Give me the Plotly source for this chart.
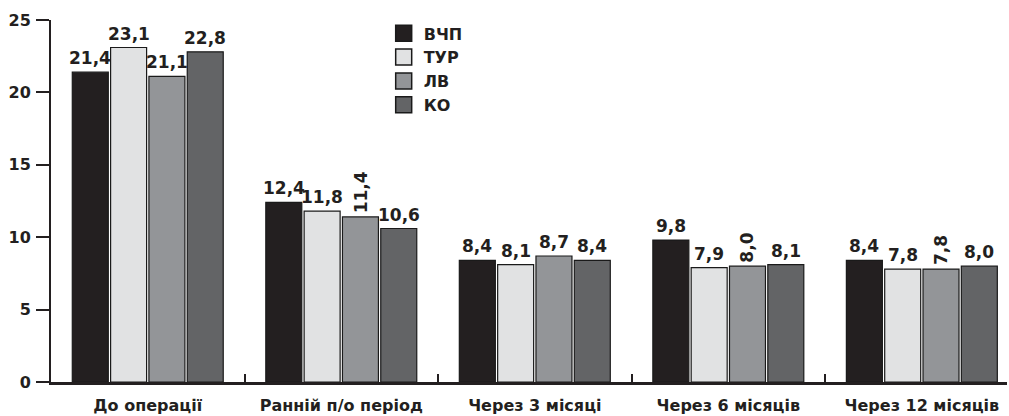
import plotly.graph_objects as go

categories = ["До операції", "Ранній п/о період", "Через 3 місяці", "Через 6 місяців", "Через 12 місяців"]
series_names = ["ВЧП", "ТУР", "ЛВ", "КО"]
vchp = [21.4, 12.4, 8.4, 9.8, 8.4]
tur = [23.1, 11.8, 8.1, 7.9, 7.8]
lv = [21.1, 11.4, 8.7, 8.0, 7.8]
ko = [22.8, 10.6, 8.4, 8.1, 8.0]
y_ticks = [0, 5, 10, 15, 20, 25]

series_values = [vchp, tur, lv, ko]
colors = ["#231f20", "#e1e2e3", "#939598", "#636466"]
outline = "#1a1a1a"
slot = 0.198
bar_w = 0.186
# (series index, category index) of value labels drawn vertically
rotated = {(2, 1), (2, 3), (2, 4)}
FONT = "DejaVu Sans, sans-serif"
INK = "#231f20"

fig = go.Figure()
for j, (name, vals) in enumerate(zip(series_names, series_values)):
    xs = [i + (j - 1.5) * slot for i in range(len(categories))]
    fig.add_trace(go.Bar(
        x=xs, y=vals, width=bar_w, name=name, showlegend=False,
        marker=dict(color=colors[j], line=dict(color=outline, width=1.2)),
        hoverinfo="skip",
    ))
    fig.add_trace(go.Scatter(
        x=[None], y=[None], mode="markers", name=name,
        marker=dict(symbol="square", size=16, color=colors[j],
                    line=dict(color=outline, width=1.5)),
    ))
    for i, v in enumerate(vals):
        label = f"{v:.1f}".replace(".", ",")
        rot = (j, i) in rotated
        fig.add_annotation(
            x=xs[i], y=v, text=f"<b>{label}</b>", showarrow=False,
            textangle=-90 if rot else 0,
            xanchor="center", yanchor="bottom", yshift=2,
            font=dict(family=FONT, size=17, color=INK),
        )

fig.update_layout(
    width=1009, height=416,
    margin=dict(l=51, r=2, t=20, b=34),
    paper_bgcolor="white", plot_bgcolor="white",
    barmode="overlay",
    font=dict(family=FONT, color=INK),
    legend=dict(
        x=0.348, y=1.01, xanchor="left", yanchor="top",
        font=dict(family=FONT, size=16, color=INK, weight="bold"),
        bgcolor="rgba(0,0,0,0)", tracegroupgap=0,
    ),
    xaxis=dict(
        range=[-0.5, 4.44], automargin=False,
        tickvals=list(range(len(categories))),
        ticktext=[f"<b>{c}</b>" for c in categories],
        ticks="", showgrid=False, zeroline=False,
        showline=True, linecolor=INK, linewidth=2.5,
        tickfont=dict(family=FONT, size=16, color=INK),
        ticklabelstandoff=7,
        minor=dict(tickvals=[0.5, 1.5, 2.5, 3.5], ticks="inside",
                   ticklen=8, tickwidth=2, tickcolor=INK),
    ),
    yaxis=dict(
        range=[0, 25], tickvals=y_ticks, automargin=False,
        ticktext=[f"<b>{t}</b>" for t in y_ticks],
        ticks="outside", ticklen=13, tickwidth=2, tickcolor=INK,
        showgrid=False, zeroline=False,
        showline=True, linecolor=INK, linewidth=2,
        tickfont=dict(family=FONT, size=16, color=INK),
        ticklabelstandoff=2,
    ),
)

fig.write_html(
    "out.html",
    config={"displayModeBar": False},
    post_script="document.body.style.margin='0';document.body.style.overflow='hidden';",
)
